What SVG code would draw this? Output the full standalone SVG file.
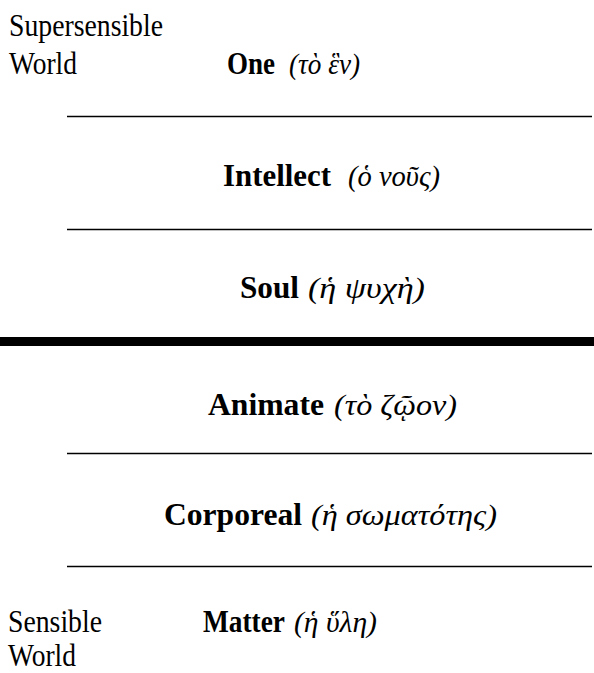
<svg xmlns="http://www.w3.org/2000/svg" width="594" height="673" viewBox="0 0 594 673">
<style>
.lbl{font-family:"Liberation Serif","Times New Roman",serif;font-size:31px;fill:#000}
.b{font-family:"Liberation Serif","Times New Roman",serif;font-size:32px;font-weight:bold;fill:#000}
.g{font-family:"Liberation Serif","Times New Roman",serif;font-size:30px;font-style:italic;fill:#000}
.thin{stroke:#000;stroke-width:1.6}
</style>
<rect width="594" height="673" fill="#fff"/>
<g id="connectors">
<line class="thin" x1="67" y1="116.5" x2="592" y2="116.5"/>
<line class="thin" x1="67" y1="229.5" x2="592" y2="229.5"/>
<rect x="0" y="337" width="594" height="9" fill="#000"/>
<line class="thin" x1="67" y1="453.5" x2="592" y2="453.5"/>
<line class="thin" x1="67" y1="566.5" x2="592" y2="566.5"/>
</g>
<g id="supersensible">
<text class="lbl" x="9" y="36" textLength="154" lengthAdjust="spacingAndGlyphs">Supersensible</text>
<text class="lbl" x="9" y="74" textLength="68" lengthAdjust="spacingAndGlyphs">World</text>
</g>
<g id="one">
<text class="b" x="227" y="74" textLength="48" lengthAdjust="spacingAndGlyphs">One</text>
<text class="g" x="289" y="74" textLength="71" lengthAdjust="spacingAndGlyphs">(τὸ ἓν)</text>
</g>
<g id="intellect">
<text class="b" x="223" y="186" textLength="108" lengthAdjust="spacingAndGlyphs">Intellect</text>
<text class="g" x="348" y="186" textLength="92" lengthAdjust="spacingAndGlyphs">(ὁ νοῦς)</text>
</g>
<g id="soul">
<text class="b" x="240" y="298" textLength="59" lengthAdjust="spacingAndGlyphs">Soul</text>
<text class="g" x="308" y="298" textLength="117" lengthAdjust="spacingAndGlyphs">(ἡ ψυχὴ)</text>
</g>
<g id="animate">
<text class="b" x="208" y="415" textLength="116" lengthAdjust="spacingAndGlyphs">Animate</text>
<text class="g" x="334" y="415" textLength="123" lengthAdjust="spacingAndGlyphs">(τὸ ζῷον)</text>
</g>
<g id="corporeal">
<text class="b" x="164" y="525" textLength="138" lengthAdjust="spacingAndGlyphs">Corporeal</text>
<text class="g" x="311" y="525" textLength="186" lengthAdjust="spacingAndGlyphs">(ἡ σωματότης)</text>
</g>
<g id="matter">
<text class="b" x="203" y="632" textLength="82" lengthAdjust="spacingAndGlyphs">Matter</text>
<text class="g" x="294" y="632" textLength="83" lengthAdjust="spacingAndGlyphs">(ἡ ὕλη)</text>
</g>
<g id="sensible">
<text class="lbl" x="8" y="632" textLength="94" lengthAdjust="spacingAndGlyphs">Sensible</text>
<text class="lbl" x="8" y="666" textLength="68" lengthAdjust="spacingAndGlyphs">World</text>
</g>
</svg>
